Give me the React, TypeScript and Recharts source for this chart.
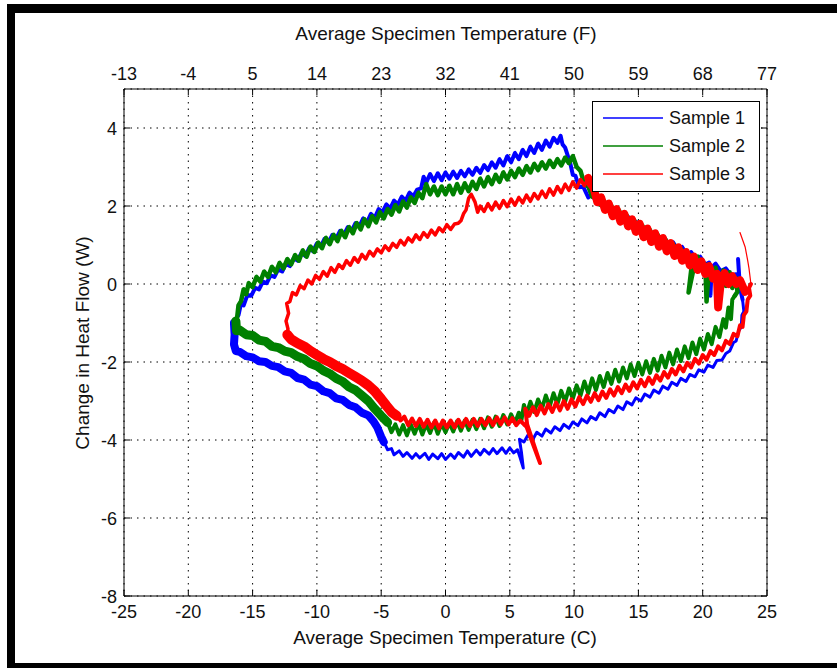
import React from 'react';
import { ComposedChart, Line, XAxis, YAxis, CartesianGrid, Legend } from 'recharts';

type Pt = [number, number];

const xTicksC = [-25, -20, -15, -10, -5, 0, 5, 10, 15, 20, 25];
const xTicksF = [-13, -4, 5, 14, 23, 32, 41, 50, 59, 68, 77];
const yTicks = [-8, -6, -4, -2, 0, 2, 4];
const seriesNames = ['Sample 1', 'Sample 2', 'Sample 3'];
const seriesColors = ['#0000ff', '#008000', '#ff0000'];

// Sample 1 (blue)
const s1LowerLeft: Pt[] = [[-16.45,-1.0],[-16.4,-1.3],[-16.45,-1.55],[-16.3,-1.72],[-16,-1.74],[-15.5,-1.85],[-15,-1.88],[-14.5,-1.98],[-14,-2.0],[-13.5,-2.1],[-13,-2.13],[-12.5,-2.24],[-12,-2.28],[-11.5,-2.41],[-11,-2.45],[-10.5,-2.58],[-10,-2.62],[-9.5,-2.75],[-9,-2.8],[-8.5,-2.93],[-8,-2.97],[-7.5,-3.1],[-7,-3.16],[-6.5,-3.3],[-6,-3.37],[-5.6,-3.52],[-5.3,-3.68],[-5.0,-3.92],[-4.8,-4.05]];
const s1Lower: Pt[] = [[-4.8,-4.05],[-4.5,-4.25],[-4.2,-4.22],[-4.0,-4.38],[-3.6,-4.28],[-3.3,-4.42],[-3.0,-4.32],[-2.6,-4.47],[-2.3,-4.35],[-2.0,-4.46],[-1.6,-4.34],[-1.3,-4.5],[-1.0,-4.36],[-0.6,-4.48],[-0.3,-4.35],[0.0,-4.5],[0.4,-4.36],[0.7,-4.47],[1.0,-4.32],[1.4,-4.44],[1.7,-4.28],[2.0,-4.42],[2.4,-4.26],[2.7,-4.38],[3.0,-4.24],[3.4,-4.36],[3.7,-4.22],[4.0,-4.35],[4.4,-4.2],[4.7,-4.34],[5.0,-4.2],[5.3,-4.33],[5.6,-4.25],[5.8,-4.45],[6.05,-4.72],[5.9,-4.3],[5.75,-3.98],[6.1,-4.05],[6.4,-3.88],[6.8,-3.98],[7.1,-3.8],[7.5,-3.9],[7.8,-3.72],[8.2,-3.82],[8.5,-3.66],[8.9,-3.76],[9.2,-3.6],[9.6,-3.7],[9.9,-3.54],[10.3,-3.63],[10.6,-3.46],[11.0,-3.56],[11.3,-3.4],[11.7,-3.48],[12.0,-3.3],[12.4,-3.4],[12.7,-3.22],[13.1,-3.3],[13.4,-3.13],[13.8,-3.22],[14.1,-3.02],[14.5,-3.1],[14.8,-2.92],[15.2,-3.0],[15.5,-2.82],[15.9,-2.9],[16.2,-2.72],[16.6,-2.8],[16.9,-2.62],[17.3,-2.7],[17.6,-2.52],[18.0,-2.6],[18.3,-2.42],[18.7,-2.5],[19.0,-2.32],[19.4,-2.38],[19.7,-2.2],[20.1,-2.26],[20.4,-2.08],[20.8,-2.14],[21.1,-1.96],[21.5,-1.95],[21.8,-1.78],[22.1,-1.72],[22.4,-1.5],[22.6,-1.46],[22.8,-1.2],[23.0,-1.1],[23.05,-0.8],[23.2,-0.7],[23.1,-0.4]];
const s1Upper: Pt[] = [[23.1,-0.4],[22.9,-0.1],[22.75,0.64],[22.85,0.1],[22.6,0.25],[22.2,0.22],[21.8,0.4],[21.4,0.33],[21.0,0.52],[20.7,0.42],[20.6,-0.3],[20.5,0.55],[20.2,0.5],[19.8,0.7],[19.5,0.62],[19.1,0.82],[18.8,0.74],[18.4,0.95],[18.1,0.86],[17.7,1.07],[17.4,0.98],[17.0,1.2],[16.7,1.1],[16.3,1.33],[16.0,1.22],[15.6,1.45],[15.3,1.35],[14.9,1.58],[14.6,1.48],[14.2,1.72],[13.9,1.62],[13.5,1.86],[13.2,1.76],[12.8,2.0],[12.5,1.9],[12.1,2.15],[11.8,2.05],[11.4,2.3],[11.1,2.22],[10.7,2.5],[10.4,2.48],[10.1,2.78],[9.9,2.8],[9.7,3.1],[9.5,3.3],[9.3,3.5],[9.1,3.58],[8.95,3.8],[8.7,3.62],[8.4,3.75],[8.1,3.52],[7.8,3.68],[7.5,3.44],[7.2,3.6],[6.9,3.36],[6.6,3.52],[6.3,3.28],[6.0,3.44],[5.7,3.2],[5.4,3.36],[5.1,3.12],[4.8,3.28],[4.5,3.04],[4.2,3.2],[3.9,2.98],[3.6,3.12],[3.3,2.92],[3.0,3.05],[2.7,2.85],[2.4,2.98],[2.1,2.8],[1.8,2.94],[1.5,2.76],[1.2,2.9],[0.9,2.72],[0.6,2.88],[0.3,2.7],[0.0,2.86],[-0.3,2.66],[-0.6,2.84],[-0.9,2.64],[-1.2,2.82],[-1.5,2.6],[-1.7,2.75],[-1.9,2.45],[-2.2,2.42],[-2.5,2.25],[-2.8,2.34],[-3.1,2.14],[-3.4,2.24],[-3.7,2.04],[-4.0,2.14],[-4.3,1.94],[-4.6,2.04],[-4.9,1.84],[-5.2,1.92],[-5.5,1.7],[-5.8,1.8],[-6.1,1.58],[-6.4,1.68],[-6.7,1.48],[-7.0,1.56],[-7.3,1.36],[-7.6,1.46],[-7.9,1.26],[-8.2,1.36],[-8.5,1.16],[-8.8,1.26],[-9.1,1.06],[-9.4,1.16],[-9.7,0.96],[-10.0,1.04],[-10.3,0.84],[-10.6,0.92],[-10.9,0.72],[-11.2,0.8],[-11.5,0.6],[-11.8,0.66],[-12.1,0.46],[-12.4,0.52],[-12.7,0.32],[-13.0,0.38],[-13.3,0.18],[-13.6,0.22],[-13.9,0.02],[-14.2,0.06],[-14.5,-0.14],[-14.8,-0.1],[-15.1,-0.3],[-15.4,-0.28],[-15.7,-0.55],[-15.9,-0.5],[-16.1,-0.8],[-16.3,-0.9],[-16.45,-1.0]];

// Sample 2 (green)
const s2LowerLeft: Pt[] = [[-16.3,-0.95],[-16.25,-1.2],[-16.0,-1.18],[-15.5,-1.3],[-15.0,-1.32],[-14.5,-1.44],[-14.0,-1.47],[-13.5,-1.6],[-13.0,-1.63],[-12.5,-1.72],[-12.0,-1.76],[-11.5,-1.86],[-11.0,-1.92],[-10.5,-2.04],[-10.0,-2.1],[-9.5,-2.22],[-9.0,-2.3],[-8.5,-2.42],[-8.0,-2.5],[-7.5,-2.64],[-7.0,-2.72],[-6.5,-2.86],[-6.0,-3.0],[-5.5,-3.2],[-5.0,-3.38],[-4.5,-3.55]];
const s2Lower: Pt[] = [[-4.5,-3.55],[-4.2,-3.8],[-3.9,-3.6],[-3.6,-3.86],[-3.3,-3.62],[-3.0,-3.88],[-2.7,-3.6],[-2.4,-3.84],[-2.1,-3.58],[-1.8,-3.86],[-1.5,-3.6],[-1.2,-3.82],[-0.9,-3.56],[-0.6,-3.84],[-0.3,-3.58],[0.0,-3.8],[0.3,-3.56],[0.6,-3.78],[0.9,-3.52],[1.2,-3.76],[1.5,-3.5],[1.8,-3.74],[2.1,-3.48],[2.4,-3.72],[2.7,-3.46],[3.0,-3.7],[3.3,-3.42],[3.6,-3.66],[3.9,-3.4],[4.2,-3.64],[4.5,-3.36],[4.8,-3.6],[5.1,-3.34],[5.4,-3.56],[5.7,-3.3],[5.9,-3.5],[6.1,-3.1],[6.3,-3.34],[6.6,-3.02],[6.9,-3.28],[7.2,-2.96],[7.5,-3.2],[7.8,-2.86],[8.1,-3.14],[8.4,-2.8],[8.7,-3.08],[9.0,-2.74],[9.3,-3.02],[9.6,-2.68],[9.9,-2.94],[10.2,-2.6],[10.5,-2.86],[10.8,-2.5],[11.1,-2.8],[11.4,-2.42],[11.7,-2.72],[12.0,-2.36],[12.3,-2.64],[12.6,-2.28],[12.9,-2.56],[13.2,-2.2],[13.5,-2.5],[13.8,-2.14],[14.1,-2.42],[14.4,-2.06],[14.7,-2.36],[15.0,-2.02],[15.3,-2.32],[15.6,-1.98],[15.9,-2.28],[16.2,-1.92],[16.5,-2.22],[16.8,-1.84],[17.1,-2.14],[17.4,-1.76],[17.7,-2.06],[18.0,-1.68],[18.3,-1.98],[18.6,-1.6],[18.9,-1.9],[19.2,-1.5],[19.5,-1.8],[19.8,-1.4],[20.1,-1.68],[20.4,-1.28],[20.7,-1.54],[21.0,-1.1],[21.3,-1.36],[21.6,-0.9],[21.8,-1.12],[22.0,-0.6],[22.2,-0.9],[22.3,-0.4],[22.5,-0.3]];
const s2Upper: Pt[] = [[22.5,-0.3],[22.7,-0.2],[22.6,0.15],[22.3,-0.1],[22.1,0.3],[21.8,-0.05],[21.6,0.35],[21.3,0.05],[21.0,0.42],[20.7,0.15],[20.5,0.5],[20.3,-0.45],[20.2,0.5],[19.9,0.5],[19.6,0.7],[19.3,0.4],[18.9,-0.22],[19.2,0.62],[18.9,0.78],[18.6,0.7],[18.3,0.9],[18.0,0.82],[17.7,1.02],[17.4,0.92],[17.1,1.14],[16.8,1.04],[16.5,1.26],[16.2,1.16],[15.9,1.38],[15.6,1.28],[15.3,1.5],[15.0,1.4],[14.7,1.62],[14.4,1.52],[14.1,1.75],[13.8,1.64],[13.5,1.88],[13.2,1.78],[12.9,2.0],[12.6,1.9],[12.3,2.14],[12.0,2.04],[11.7,2.3],[11.4,2.24],[11.1,2.5],[10.8,2.56],[10.5,2.9],[10.2,3.0],[9.9,3.28],[9.6,3.1],[9.3,3.24],[9.0,3.04],[8.7,3.2],[8.4,3.0],[8.1,3.16],[7.8,2.96],[7.5,3.12],[7.2,2.92],[6.9,3.08],[6.6,2.86],[6.3,3.02],[6.0,2.8],[5.7,2.96],[5.4,2.74],[5.1,2.9],[4.8,2.68],[4.5,2.86],[4.2,2.62],[3.9,2.8],[3.6,2.56],[3.3,2.74],[3.0,2.5],[2.7,2.7],[2.4,2.44],[2.1,2.62],[1.8,2.38],[1.5,2.58],[1.2,2.34],[0.9,2.56],[0.6,2.3],[0.3,2.52],[0.0,2.3],[-0.3,2.5],[-0.6,2.28],[-0.9,2.5],[-1.2,2.3],[-1.5,2.56],[-1.8,2.2],[-2.1,2.34],[-2.4,2.08],[-2.7,2.22],[-3.0,1.96],[-3.3,2.12],[-3.6,1.86],[-3.9,2.02],[-4.2,1.78],[-4.5,1.92],[-4.8,1.68],[-5.1,1.84],[-5.4,1.58],[-5.7,1.74],[-6.0,1.48],[-6.3,1.66],[-6.6,1.4],[-6.9,1.56],[-7.2,1.3],[-7.5,1.46],[-7.8,1.2],[-8.1,1.36],[-8.4,1.1],[-8.7,1.26],[-9.0,1.02],[-9.3,1.18],[-9.6,0.92],[-9.9,1.06],[-10.2,0.82],[-10.5,0.96],[-10.8,0.7],[-11.1,0.86],[-11.4,0.6],[-11.7,0.74],[-12.0,0.5],[-12.3,0.64],[-12.6,0.4],[-12.9,0.54],[-13.2,0.3],[-13.5,0.44],[-13.8,0.18],[-14.1,0.32],[-14.4,0.06],[-14.7,0.18],[-15.0,-0.08],[-15.3,0.02],[-15.5,-0.26],[-15.7,-0.14],[-15.9,-0.44],[-16.1,-0.55],[-16.2,-0.85],[-16.3,-0.95]];

// Sample 3 (red)
const s3LowerLeft: Pt[] = [[-12.3,-1.3],[-12.0,-1.42],[-11.5,-1.52],[-11.0,-1.6],[-10.5,-1.72],[-10.0,-1.82],[-9.5,-1.92],[-9.0,-2.0],[-8.5,-2.1],[-8.0,-2.18],[-7.5,-2.28],[-7.0,-2.38],[-6.5,-2.48],[-6.0,-2.6],[-5.5,-2.75],[-5.0,-2.95],[-4.6,-3.12],[-4.2,-3.28],[-3.8,-3.38]];
const s3Lower: Pt[] = [[-3.8,-3.38],[-3.5,-3.5],[-3.2,-3.4],[-2.9,-3.62],[-2.6,-3.45],[-2.3,-3.64],[-2.0,-3.46],[-1.7,-3.66],[-1.4,-3.48],[-1.1,-3.68],[-0.8,-3.5],[-0.5,-3.7],[-0.2,-3.5],[0.1,-3.68],[0.4,-3.5],[0.7,-3.68],[1.0,-3.48],[1.3,-3.66],[1.6,-3.46],[1.9,-3.64],[2.2,-3.46],[2.5,-3.64],[2.8,-3.46],[3.1,-3.62],[3.4,-3.44],[3.7,-3.62],[4.0,-3.42],[4.3,-3.6],[4.6,-3.42],[4.9,-3.6],[5.2,-3.44],[5.5,-3.62],[5.8,-3.5],[6.1,-3.6],[6.3,-3.66],[7.35,-4.59],[6.35,-3.6],[6.2,-3.2],[6.5,-3.38],[6.8,-3.16],[7.1,-3.36],[7.4,-3.12],[7.7,-3.32],[8.0,-3.08],[8.3,-3.28],[8.6,-3.04],[8.9,-3.24],[9.2,-3.0],[9.5,-3.2],[9.8,-2.96],[10.1,-3.14],[10.4,-2.9],[10.7,-3.08],[11.0,-2.86],[11.3,-3.02],[11.6,-2.8],[11.9,-2.98],[12.2,-2.76],[12.5,-2.92],[12.8,-2.7],[13.1,-2.86],[13.4,-2.64],[13.7,-2.8],[14.0,-2.58],[14.3,-2.74],[14.6,-2.52],[14.9,-2.68],[15.2,-2.46],[15.5,-2.62],[15.8,-2.4],[16.1,-2.56],[16.4,-2.34],[16.7,-2.48],[17.0,-2.26],[17.3,-2.4],[17.6,-2.18],[17.9,-2.32],[18.2,-2.1],[18.5,-2.24],[18.8,-2.02],[19.1,-2.14],[19.4,-1.92],[19.7,-2.04],[20.0,-1.82],[20.3,-1.94],[20.6,-1.72],[20.9,-1.82],[21.2,-1.6],[21.5,-1.7],[21.8,-1.46],[22.1,-1.54],[22.4,-1.28],[22.7,-1.34],[22.9,-1.06],[23.1,-1.1],[23.2,-0.8],[23.4,-0.7],[23.5,-0.4],[23.7,-0.3],[23.6,-0.1],[23.75,0.0]];
const s3Tail: Pt[] = [[23.75,0.0],[23.6,0.4],[23.5,0.6],[23.3,0.95],[22.9,1.32]];
const s3Falling: Pt[] = [[23.3,-0.2],[22.9,0.1],[22.6,0.0],[22.3,0.2],[22.0,0.0],[21.7,0.28],[21.4,0.02],[21.2,-0.6],[21.1,0.26],[20.8,0.14],[20.5,0.46],[20.2,0.26],[19.9,0.58],[19.6,0.36],[19.3,0.7],[19.0,0.48],[18.7,0.82],[18.4,0.6],[18.1,0.94],[17.8,0.72],[17.5,1.05],[17.2,0.84],[16.9,1.18],[16.6,0.96],[16.3,1.3],[16.0,1.08],[15.7,1.42],[15.4,1.2],[15.1,1.54],[14.8,1.34],[14.5,1.66],[14.2,1.48],[13.9,1.8],[13.6,1.6],[13.3,1.92],[13.0,1.74],[12.7,2.06],[12.4,1.9],[12.1,2.22],[11.8,2.1],[11.5,2.48],[11.3,2.56],[11.1,2.72]];
const s3Upper: Pt[] = [[11.1,2.72],[10.8,2.52],[10.5,2.68],[10.2,2.46],[9.9,2.62],[9.6,2.4],[9.3,2.56],[9.0,2.34],[8.7,2.5],[8.4,2.28],[8.1,2.44],[7.8,2.22],[7.5,2.38],[7.2,2.18],[6.9,2.32],[6.6,2.12],[6.3,2.28],[6.0,2.08],[5.7,2.22],[5.4,2.02],[5.1,2.18],[4.8,1.98],[4.5,2.14],[4.2,1.94],[3.9,2.1],[3.6,1.9],[3.3,2.06],[3.0,1.86],[2.7,2.0],[2.5,1.84],[2.3,2.1],[2.0,2.3],[1.8,2.2],[1.6,1.9],[1.4,1.8],[1.2,1.62],[1.0,1.56],[0.7,1.54],[0.4,1.4],[0.1,1.52],[-0.2,1.34],[-0.5,1.44],[-0.8,1.26],[-1.1,1.38],[-1.4,1.2],[-1.7,1.32],[-2.0,1.14],[-2.3,1.26],[-2.6,1.08],[-2.9,1.18],[-3.2,1.0],[-3.5,1.12],[-3.8,0.94],[-4.1,1.04],[-4.4,0.86],[-4.7,0.98],[-5.0,0.8],[-5.3,0.9],[-5.6,0.72],[-5.9,0.84],[-6.2,0.64],[-6.5,0.76],[-6.8,0.56],[-7.1,0.68],[-7.4,0.48],[-7.7,0.6],[-8.0,0.4],[-8.3,0.5],[-8.6,0.3],[-8.9,0.42],[-9.2,0.2],[-9.5,0.32],[-9.8,0.12],[-10.1,0.22],[-10.4,0.0],[-10.7,0.1],[-11.0,-0.12],[-11.3,-0.04],[-11.6,-0.28],[-11.9,-0.22],[-12.1,-0.45],[-12.35,-0.5],[-12.2,-0.75],[-12.4,-0.95],[-12.25,-1.15],[-12.35,-1.35]];

const FONT = "'Liberation Sans', Arial, Helvetica, sans-serif";
const TEXT = '#111';
const FS = 18;
const FS_TITLE = 19;

const rows = (pts: Pt[]) => pts.map(([t, q]) => ({ t, q }));

const BottomTick = (props: any) => {
  const { x, y, payload } = props;
  return (
    <g>
      <line x1={x} y1={y} x2={x} y2={y - 6} stroke="#000" />
      <text x={x} y={y + 22} textAnchor="middle" fontSize={FS} fontFamily={FONT} fill={TEXT}>{payload.value}</text>
    </g>
  );
};

const TopTick = (props: any) => {
  const { x, y, payload } = props;
  const i = xTicksC.indexOf(payload.value);
  return (
    <g>
      <line x1={x} y1={y} x2={x} y2={y + 6} stroke="#000" />
      <text x={x} y={y - 9} textAnchor="middle" fontSize={FS} fontFamily={FONT} fill={TEXT}>{xTicksF[i]}</text>
    </g>
  );
};

const LeftTick = (props: any) => {
  const { x, y, payload } = props;
  return (
    <g>
      <line x1={x} y1={y} x2={x + 6} y2={y} stroke="#000" />
      <text x={x - 7} y={y + 6.5} textAnchor="end" fontSize={FS} fontFamily={FONT} fill={TEXT}>{payload.value}</text>
    </g>
  );
};

const RightTick = (props: any) => {
  const { x, y } = props;
  return <line x1={x} y1={y} x2={x - 6} y2={y} stroke="#000" />;
};

const AxisTitle = (props: any) => {
  const { tx, ty, text, rot } = props;
  return (
    <text
      x={tx}
      y={ty}
      textAnchor="middle"
      dominantBaseline="central"
      fontSize={FS_TITLE}
      fontFamily={FONT}
      fill={TEXT}
      transform={rot ? `rotate(-90 ${tx} ${ty})` : undefined}
    >
      {text}
    </text>
  );
};

const LegendBox = () => (
  <svg width={168} height={91} style={{ display: 'block' }}>
    <rect x={0.5} y={0.5} width={167} height={90} fill="#fff" stroke="#000" />
    {seriesNames.map((n, i) => (
      <g key={n}>
        <line x1={11} x2={71} y1={17 + 28 * i} y2={17 + 28 * i} stroke={seriesColors[i]} strokeWidth={1.5} />
        <text x={77} y={17 + 28 * i} dominantBaseline="central" fontSize={FS} fontFamily={FONT} fill={TEXT}>{n}</text>
      </g>
    ))}
  </svg>
);

type Seg = { id: string; pts: Pt[]; color: number; w: number; xa?: string; ya?: string };

const segments: Seg[] = [
  { id: 'b1', pts: s1LowerLeft, color: 0, w: 8 },
  { id: 'b2', pts: s1Lower, color: 0, w: 3 },
  { id: 'b3', pts: s1Upper, color: 0, w: 4 },
  { id: 'g1', pts: s2LowerLeft, color: 1, w: 9 },
  { id: 'g2', pts: s2Lower, color: 1, w: 4 },
  { id: 'g3', pts: s2Upper, color: 1, w: 4.5 },
  { id: 'r1', pts: s3LowerLeft, color: 2, w: 10 },
  { id: 'r2', pts: s3Lower, color: 2, w: 4 },
  { id: 'r3', pts: s3Tail, color: 2, w: 1.2, xa: 'top' },
  { id: 'r4', pts: s3Falling, color: 2, w: 8, ya: 'right' },
  { id: 'r5', pts: s3Upper, color: 2, w: 3.5 },
];

export default function App() {
  return (
    <div style={{ position: 'absolute', left: 0, top: 0, width: 837, height: 668, background: '#fff', overflow: 'hidden' }}>
      <ComposedChart width={837} height={668} margin={{ top: 0, right: 0, bottom: 0, left: 0 }}>
        <CartesianGrid
          xAxisId="bottom"
          yAxisId="left"
          stroke="#000"
          strokeDasharray="1.5 5"
          strokeWidth={1}
        />
        <XAxis
          xAxisId="bottom"
          dataKey="t"
          type="number"
          orientation="bottom"
          domain={[-25, 25]}
          ticks={xTicksC}
          interval={0}
          allowDataOverflow
          height={72}
          tickSize={0}
          tickMargin={0}
          tickLine={false}
          axisLine={{ stroke: '#000' }}
          tick={<BottomTick />}
          label={<AxisTitle tx={445} ty={637} text="Average Specimen Temperature (C)" />}
        />
        <XAxis
          xAxisId="top"
          dataKey="t"
          type="number"
          orientation="top"
          domain={[-25, 25]}
          ticks={xTicksC}
          interval={0}
          allowDataOverflow
          height={89}
          tickSize={0}
          tickMargin={0}
          tickLine={false}
          axisLine={{ stroke: '#000' }}
          tick={<TopTick />}
          label={<AxisTitle tx={446} ty={33} text="Average Specimen Temperature (F)" />}
        />
        <YAxis
          yAxisId="left"
          type="number"
          orientation="left"
          domain={[-8, 5]}
          ticks={yTicks}
          interval={0}
          allowDataOverflow
          width={124}
          tickSize={0}
          tickMargin={0}
          tickLine={false}
          axisLine={{ stroke: '#000' }}
          tick={<LeftTick />}
          label={<AxisTitle tx={82} ty={343} rot text="Change in Heat Flow (W)" />}
        />
        <YAxis
          yAxisId="right"
          type="number"
          orientation="right"
          domain={[-8, 5]}
          ticks={yTicks}
          interval={0}
          allowDataOverflow
          width={70}
          tickSize={0}
          tickMargin={0}
          tickLine={false}
          axisLine={{ stroke: '#000' }}
          tick={<RightTick />}
        />
        {segments.map((s) => (
          <Line
            key={s.id}
            data={rows(s.pts)}
            dataKey="q"
            name={seriesNames[s.color]}
            xAxisId={s.xa ?? 'bottom'}
            yAxisId={s.ya ?? 'left'}
            type="linear"
            stroke={seriesColors[s.color]}
            strokeWidth={s.w}
            strokeLinejoin="round"
            strokeLinecap="round"
            dot={false}
            activeDot={false}
            legendType="none"
            isAnimationActive={false}
          />
        ))}
        <Legend
          layout="horizontal"
          verticalAlign="middle"
          align="center"
          content={LegendBox}
          wrapperStyle={{ left: 592, top: 101, width: 168, height: 91 }}
        />
      </ComposedChart>
      <div
        style={{
          position: 'absolute',
          left: 7,
          top: 4,
          width: 830,
          height: 664,
          boxSizing: 'border-box',
          borderLeft: '8px solid #000',
          borderTop: '9px solid #000',
          borderBottom: '5px solid #000',
          pointerEvents: 'none',
        }}
      />
    </div>
  );
}
